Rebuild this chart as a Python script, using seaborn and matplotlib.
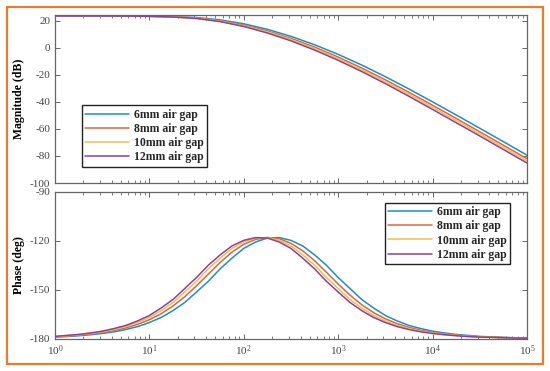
import numpy as np
import pandas as pd
import matplotlib
matplotlib.use("Agg")
import matplotlib.pyplot as plt
import seaborn as sns
from matplotlib.patches import Rectangle

gaps = ["6mm air gap", "8mm air gap", "10mm air gap", "12mm air gap"]
colors = ["#1a8fc9", "#e0653a", "#f0bc55", "#8e3f96"]

# magnitude (dB), quarter-decade points from 10^0 to 10^5
freq_mag = np.logspace(0, 5, 21)
mag_6 = [23.5, 23.5, 23.5, 23.4, 23.3, 23.0, 22.3, 20.6, 17.7, 13.6, 8.4,
         2.2, -4.9, -12.8, -21.4, -30.5, -40.0, -49.7, -59.5, -69.4, -79.4]
mag_8 = [23.5, 23.5, 23.5, 23.4, 23.2, 22.9, 22.0, 20.0, 16.8, 12.4, 6.9,
         0.5, -6.9, -15.0, -23.7, -32.9, -42.5, -52.2, -62.1, -72.0, -82.0]
mag_10 = [23.5, 23.5, 23.5, 23.4, 23.2, 22.8, 21.8, 19.6, 16.2, 11.7, 6.0,
          -0.6, -8.1, -16.3, -25.1, -34.4, -44.0, -53.8, -63.6, -73.6, -83.6]
mag_12 = [23.5, 23.5, 23.5, 23.4, 23.2, 22.7, 21.6, 19.3, 15.7, 10.9, 5.1,
          -1.7, -9.3, -17.6, -26.5, -35.9, -45.6, -55.4, -65.2, -75.2, -85.2]

# phase (deg), eighth-decade points from 10^0 to 10^5
freq_ph = np.logspace(0, 5, 41)
ph_6 = [-179.0, -178.7, -178.2, -177.6, -176.8, -175.8, -174.4, -172.6, -170.1, -167.0,
        -162.8, -157.8, -151.4, -144.8, -137.2, -130.7, -124.7, -120.8, -118.4, -118.1,
        -119.8, -123.2, -128.7, -135.0, -142.5, -149.3, -156.0, -161.2, -165.8, -169.1,
        -171.9, -173.8, -175.4, -176.5, -177.4, -178.0, -178.6, -178.9, -179.2, -179.4, -179.5]
ph_8 = [-178.8, -178.4, -177.9, -177.2, -176.3, -175.0, -173.4, -171.2, -168.4, -164.7,
        -160.0, -154.3, -147.6, -140.4, -133.3, -127.0, -122.2, -119.2, -118.0, -118.8,
        -121.6, -126.2, -132.2, -139.3, -146.5, -153.3, -159.2, -164.0, -167.8, -170.8,
        -173.1, -174.8, -176.1, -177.1, -177.8, -178.4, -178.8, -179.1, -179.3, -179.5, -179.6]
ph_10 = [-178.7, -178.2, -177.6, -176.8, -175.8, -174.4, -172.6, -170.1, -167.0, -162.8,
         -157.8, -151.4, -144.8, -137.2, -130.7, -124.7, -120.8, -118.4, -118.1, -119.8,
         -123.2, -128.7, -135.0, -142.5, -149.3, -156.0, -161.2, -165.8, -169.1, -171.9,
         -173.8, -175.4, -176.5, -177.4, -178.0, -178.6, -178.9, -179.2, -179.4, -179.5, -179.7]
ph_12 = [-178.6, -178.0, -177.4, -176.5, -175.4, -173.8, -171.9, -169.1, -165.8, -161.2,
         -156.0, -149.3, -142.5, -135.0, -128.7, -123.2, -119.8, -118.1, -118.4, -120.8,
         -124.7, -130.7, -137.2, -144.8, -151.4, -157.8, -162.8, -167.0, -170.1, -172.6,
         -174.4, -175.8, -176.8, -177.6, -178.2, -178.7, -179.0, -179.2, -179.4, -179.6, -179.7]

mags = [mag_6, mag_8, mag_10, mag_12]
phases = [ph_6, ph_8, ph_10, ph_12]

df_mag = pd.concat([pd.DataFrame({"freq": freq_mag, "val": m, "gap": g})
                    for g, m in zip(gaps, mags)], ignore_index=True)
df_ph = pd.concat([pd.DataFrame({"freq": freq_ph, "val": p, "gap": g})
                   for g, p in zip(gaps, phases)], ignore_index=True)

sns.set_style("ticks")
plt.rcParams["font.family"] = ["Liberation Serif", "DejaVu Serif"]
plt.rcParams["mathtext.fontset"] = "custom"
plt.rcParams["mathtext.rm"] = "Liberation Serif"
plt.rcParams["axes.unicode_minus"] = False

fig = plt.figure(figsize=(5.5, 3.71), dpi=100)
ax1 = fig.add_axes([0.1, 0.5067, 0.858, 0.4529])
ax2 = fig.add_axes([0.1, 0.0871, 0.858, 0.3962])

axis_col = "#666666"
for ax, data, lim, ticks, lab in [
        (ax1, df_mag, (-100, 24.2), [-100, -80, -60, -40, -20, 0, 20], "Magnitude (dB)"),
        (ax2, df_ph, (-180, -90), [-180, -150, -120, -90], "Phase (deg)")]:
    sns.lineplot(data=data, x="freq", y="val", hue="gap", hue_order=gaps,
                 palette=colors, estimator=None, sort=False, lw=1.1, ax=ax)
    ax.set_xscale("log")
    ax.set_xlim(1, 1e5)
    ax.set_ylim(*lim)
    ax.set_yticks(ticks)
    ax.set_xlabel("")
    ax.set_ylabel(lab, fontsize=8.5, fontweight="bold", color="black")
    ax.yaxis.set_label_coords(-0.064, 0.5)
    for s in ax.spines.values():
        s.set_visible(True)
        s.set_color(axis_col)
        s.set_linewidth(0.9)
    ax.tick_params(which="both", direction="in", top=True, right=True,
                   colors=axis_col, labelsize=8, labelcolor="#444444")
    ax.tick_params(which="major", length=3.5, width=0.7)
    ax.tick_params(which="minor", length=2, width=0.6)
    ax.get_legend().remove()

ax1.tick_params(labelbottom=False)

prop = {"family": "Liberation Serif", "weight": "bold", "size": 8.5}
leg_kw = dict(prop=prop, frameon=True, fancybox=False, edgecolor="#222222",
              framealpha=1, borderpad=0.3, labelspacing=0.18, handlelength=3.7,
              handletextpad=0.4, borderaxespad=0)
leg1 = ax1.legend(ax1.get_lines()[:4], gaps, loc="lower left",
                  bbox_to_anchor=(0.057, 0.097), **leg_kw)
leg1.get_frame().set_linewidth(1.0)
leg2 = ax2.legend(ax2.get_lines()[:4], gaps, loc="upper right",
                  bbox_to_anchor=(0.964, 0.925), **leg_kw)
leg2.get_frame().set_linewidth(1.0)

# orange frame around the figure
fig.patches.append(Rectangle((0.0127, 0.0189), 0.9745, 0.962, transform=fig.transFigure,
                             fill=False, edgecolor="#f07a2c", linewidth=1.6))

fig.savefig("out.png", dpi=100)
